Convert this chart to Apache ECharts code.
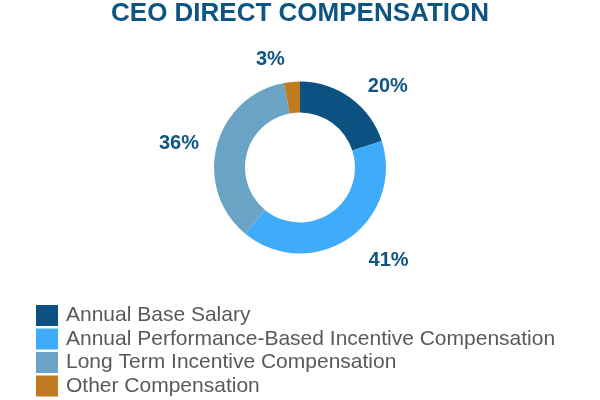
<!DOCTYPE html>
<html><head><meta charset="utf-8">
<script src="https://cdn.jsdelivr.net/npm/echarts@6/dist/echarts.min.js"></script>
<style>html,body{margin:0;padding:0;background:#fff}#c{width:600px;height:400px}</style>
</head><body><div id="c"></div>
<script>
const categories = ['Annual Base Salary', 'Annual Performance-Based Incentive Compensation', 'Long Term Incentive Compensation', 'Other Compensation'];
const values = [20, 41, 36, 3];
const colors = ['#0b5283', '#3facfb', '#6ba3c6', '#c07a1f'];
const labelLineLens = [14, 27, 9, 22];
const labelLineLens2 = [4, 0, 4, 0];

const data = categories.map((name, i) => ({
  name, value: values[i],
  itemStyle: { color: colors[i] },
  labelLine: { show: false, length: labelLineLens[i], length2: labelLineLens2[i] }
}));

const chart = echarts.init(document.getElementById('c'), null, { renderer: 'canvas' });
chart.setOption({
  animation: false,
  title: {
    text: 'CEO DIRECT COMPENSATION', left: 'center', top: -4,
    textStyle: { fontFamily: 'Liberation Sans, Arial', fontSize: 26, fontWeight: 'bold', color: '#0f5583' }
  },
  legend: {
    orient: 'vertical', left: 36, top: 305, padding: 0,
    itemWidth: 22, itemHeight: 21, itemGap: 2.5, icon: 'rect',
    data: categories,
    textStyle: { fontFamily: 'Liberation Sans, Arial', fontSize: 21, lineHeight: 21, color: '#595959', padding: [0, 0, 0, 3] }
  },
  series: [{
    type: 'pie', center: [300, 167.5], radius: [55, 86],
    startAngle: 90, clockwise: true, avoidLabelOverlap: false,
    label: {
      show: true, position: 'outside', formatter: '{c}%',
      fontFamily: 'Liberation Sans, Arial', fontSize: 20, fontWeight: 'bold', color: '#0f5583'
    },
    itemStyle: { borderWidth: 0 },
    emphasis: { disabled: true },
    data
  }]
});
</script></body></html>
